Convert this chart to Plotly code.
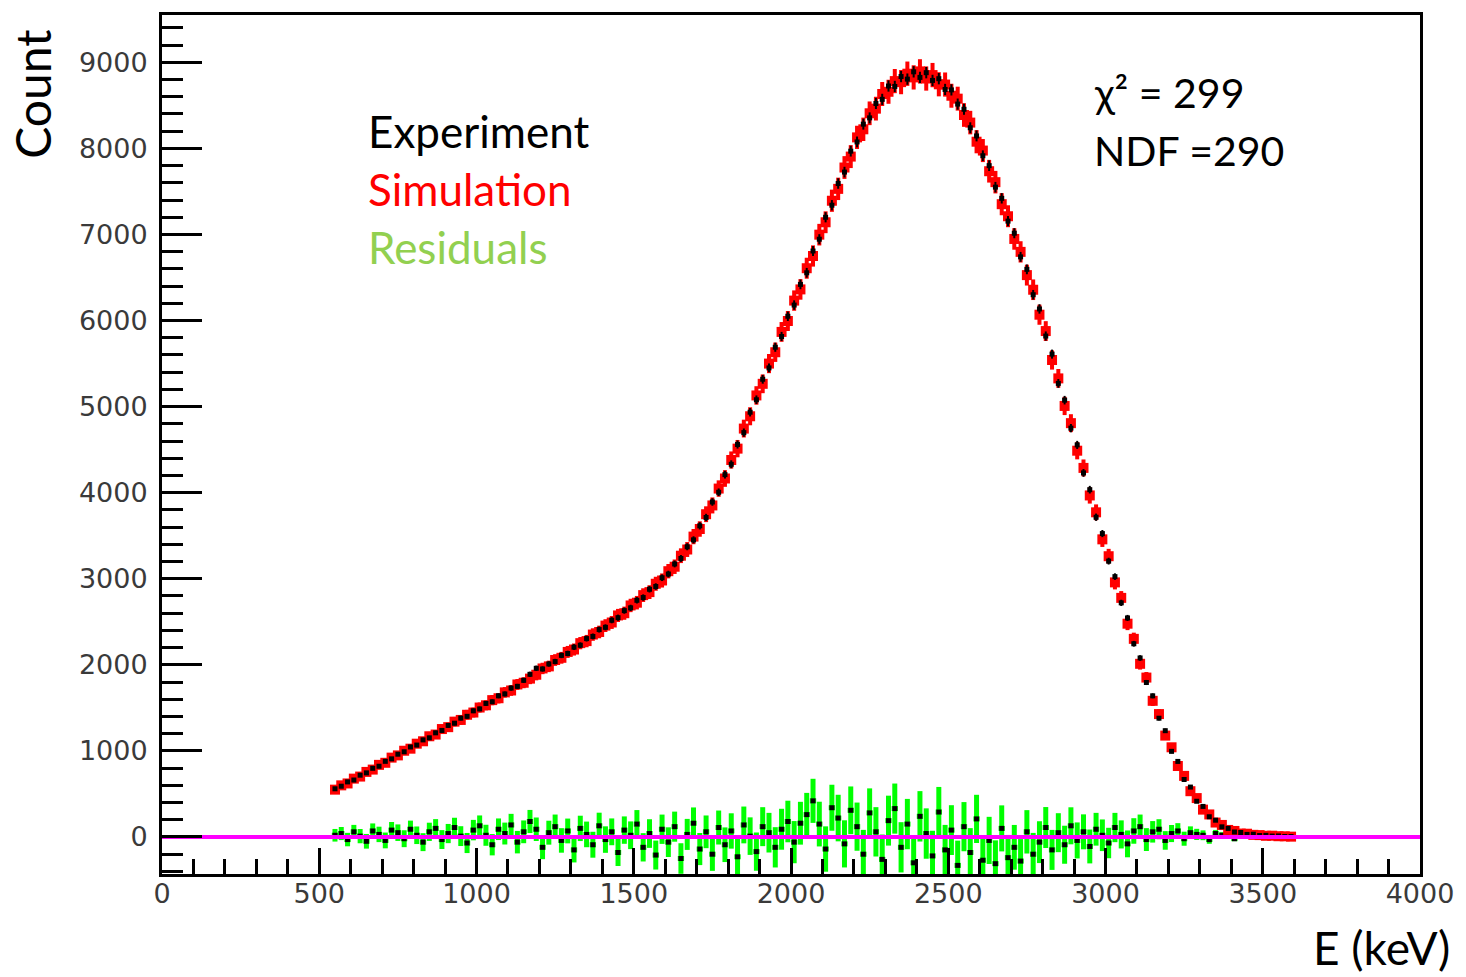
import numpy as np
import plotly.graph_objects as go

# ---------------- data ----------------
bin_start_kev = 550
bin_width_kev = 20

experiment = [
    560, 590, 640, 662, 718, 745, 798, 822, 879, 908,
    962, 990, 1046, 1068, 1128, 1152, 1210, 1238, 1296, 1322,
    1381, 1402, 1466, 1488, 1552, 1571, 1640, 1662, 1730, 1750,
    1820, 1890, 1960, 1952, 2010, 2038, 2110, 2132, 2205, 2228,
    2305, 2330, 2410, 2436, 2518, 2548, 2630, 2662, 2750, 2782,
    2878, 2910, 3012, 3055, 3172, 3236, 3372, 3452, 3615, 3712,
    3892, 4005, 4210, 4330, 4560, 4698, 4935, 5080, 5318, 5450,
    5690, 5815, 6050, 6180, 6420, 6555, 6808, 6945, 7200, 7340,
    7592, 7725, 7968, 8075, 8282, 8355, 8522, 8570, 8725, 8720,
    8835, 8805, 8890, 8825, 8880, 8790, 8810, 8685, 8680, 8515,
    8455, 8240, 8145, 7915, 7800, 7550, 7420, 7155, 7015, 6740,
    6595, 6300, 6135, 5820, 5610, 5270, 5075, 4750, 4555, 4230,
    4035, 3715, 3525, 3205, 3025, 2720, 2545, 2245, 2080, 1795,
    1640, 1380, 1235, 995, 878, 668, 580, 415, 355, 235,
    195, 118, 100, 58, 52, 30, 32, 17, 19, 11,
    12, 6, 6,
]

simulation = [
    550, 600, 622, 678, 702, 756, 783, 838, 862, 922,
    948, 1002, 1026, 1084, 1112, 1170, 1190, 1254, 1276, 1340,
    1360, 1420, 1446, 1504, 1530, 1590, 1612, 1680, 1702, 1772,
    1792, 1840, 1885, 1958, 1982, 2056, 2082, 2150, 2178, 2252,
    2276, 2352, 2382, 2456, 2492, 2574, 2600, 2690, 2722, 2810,
    2845, 2942, 2980, 3088, 3140, 3268, 3340, 3490, 3578, 3750,
    3852, 4048, 4165, 4380, 4512, 4745, 4888, 5130, 5265, 5500,
    5632, 5868, 5995, 6232, 6362, 6608, 6750, 6998, 7142, 7392,
    7530, 7778, 7905, 8128, 8222, 8408, 8462, 8632, 8658, 8782,
    8770, 8868, 8825, 8895, 8812, 8852, 8745, 8742, 8612, 8578,
    8388, 8300, 8078, 7975, 7735, 7608, 7352, 7212, 6948, 6798,
    6528, 6358, 6068, 5878, 5542, 5328, 5008, 4808, 4488, 4288,
    3968, 3772, 3458, 3262, 2958, 2778, 2478, 2302, 2012, 1852,
    1582, 1428, 1178, 1042, 825, 710, 532, 452, 318, 262,
    168, 140, 82, 70, 40, 38, 25, 22, 14, 15,
    9, 8, 4,
]

residuals = [
    20, 40, -30, 60, 10, -50, 70, 30, -40, 80,
    50, -20, 90, 20, -60, 60, 100, -30, 40, 110,
    10, -70, 80, 130, 20, -90, 90, 40, 140, -60,
    60, 180, 90, -120, 50, 120, -40, 70, -150, 100,
    30, -90, 130, -30, 60, -180, 80, 20, 150, -120,
    40, -210, 90, -60, 120, -250, 30, 160, -140, 60,
    -200, 110, -90, 70, -230, 140, 10, -170, 120, 50,
    -120, 90, 180, -60, 160, 260, 420, 150, -140, 340,
    220, -80, 310, 120, -200, 280, 60, -260, 190, 330,
    -120, 150, -300, 240, 40, -220, 290, -150, 80, -330,
    120, -180, 210, -270, -40, -310, 100, -240, -120, -280,
    60, -200, -60, 110, -150, 50, -90, 130, -40, 60,
    -110, 90, 20, -70, 110, 30, -80, 70, 120, -30,
    60, 90, -40, 40, 70, -20, 50, 30, 20, -30,
    40, 20, 10, -20, 30, 10,
]

x_range = [0, 4000]
y_range = [-430, 9550]
zero_line_y = [0, 0]

legend_labels = ["Experiment", "Simulation", "Residuals"]
fit_text = ["χ² = 299", "NDF =290"]

# ---------------- derived ----------------
exp_arr = np.array(experiment, dtype=float)
sim_arr = np.array(simulation, dtype=float)
res_arr = np.array(residuals, dtype=float)
energy = bin_start_kev + bin_width_kev * np.arange(len(exp_arr))
n_res = len(res_arr)
energy_res = energy[:n_res]
half_bin = np.full(len(energy), bin_width_kev / 2)

exp_err = np.sqrt(exp_arr)
sim_err = np.sqrt(sim_arr)
res_err = np.sqrt(exp_arr[:n_res] + sim_arr[:n_res]) * 2.2

fig = go.Figure()

# residuals: green error bars, black points
fig.add_trace(go.Scatter(
    x=energy_res, y=res_arr, mode="markers",
    marker=dict(symbol="square", size=5, color="black"),
    error_y=dict(type="data", array=res_err, color="#00ff00", thickness=5, width=0),
    error_x=dict(type="data", array=half_bin[:n_res], color="#00ff00", thickness=5, width=0),
    showlegend=False, hoverinfo="skip",
))

# simulation (red)
fig.add_trace(go.Scatter(
    x=energy, y=sim_arr, mode="markers",
    marker=dict(symbol="square", size=10, color="#ff0000"),
    error_y=dict(type="data", array=sim_err * 1.5, color="#ff0000", thickness=4, width=0),
    error_x=dict(type="data", array=half_bin, color="#ff0000", thickness=5, width=0),
    showlegend=False, hoverinfo="skip",
))

# experiment (black)
fig.add_trace(go.Scatter(
    x=energy, y=exp_arr, mode="markers",
    marker=dict(symbol="square", size=5, color="black"),
    error_y=dict(type="data", array=exp_err * 0.7, color="black", thickness=2, width=0),
    showlegend=False, hoverinfo="skip",
))

# magenta zero line
fig.add_trace(go.Scatter(
    x=x_range, y=zero_line_y, mode="lines",
    line=dict(color="#ff00ff", width=4),
    showlegend=False, hoverinfo="skip",
))

tick_font = dict(family="DejaVu Sans, Liberation Sans, sans-serif", size=27, color="#3a3a3a")
label_font = "Lato, Noto Sans, sans-serif"

fig.update_layout(
    width=1466, height=977,
    margin=dict(l=162, r=38, t=14, b=103),
    paper_bgcolor="white", plot_bgcolor="white",
    showlegend=False,
    xaxis=dict(
        range=x_range, showgrid=False, zeroline=False,
        showline=True, linecolor="black", linewidth=3, mirror=True,
        ticks="inside", ticklen=26, tickwidth=3, tickcolor="black",
        tick0=0, dtick=500, tickfont=tick_font, ticklabelstandoff=-6,
        minor=dict(ticks="inside", ticklen=15, tickwidth=3, tickcolor="black", dtick=100, showgrid=False),
    ),
    yaxis=dict(
        range=y_range, showgrid=False, zeroline=False,
        showline=True, linecolor="black", linewidth=3, mirror=True,
        ticks="inside", ticklen=40, tickwidth=3, tickcolor="black",
        tick0=0, dtick=1000, tickfont=tick_font, ticklabelstandoff=6,
        minor=dict(ticks="inside", ticklen=21, tickwidth=3, tickcolor="black", dtick=200, showgrid=False),
    ),
)

ann = []
# axis titles
ann.append(dict(text="Count", x=32, y=93, xanchor="center", yanchor="middle", textangle=-90,
                font=dict(family=label_font, size=48, color="black")))
ann.append(dict(text="E (keV)", x=1389, y=948, xanchor="center", yanchor="middle",
                font=dict(family=label_font, size=46, color="black")))
# legend-like texts
leg_colors = ["black", "#ff0000", "#92d050"]
leg_y = [130, 188, 246]
for lab, col, yy in zip(legend_labels, leg_colors, leg_y):
    ann.append(dict(text=lab, x=367, y=yy, xanchor="left", yanchor="middle",
                    font=dict(family=label_font, size=44, color=col)))
for txt, yy in zip(fit_text, [92, 150]):
    ann.append(dict(text=txt, x=1098, y=yy, xanchor="left", yanchor="middle",
                    font=dict(family=label_font, size=41, color="black")))

# convert pixel placements to paper coordinates
W, H = 1466, 977
L, R, T, B = 162, 38, 14, 103
pw, ph = W - L - R, H - T - B
for a in ann:
    a["x"] = (a["x"] - L) / pw
    a["y"] = 1 - (a["y"] - T) / ph
    a["xref"] = "paper"
    a["yref"] = "paper"
    a["showarrow"] = False
fig.update_layout(annotations=ann)

fig.write_html("out.html")
